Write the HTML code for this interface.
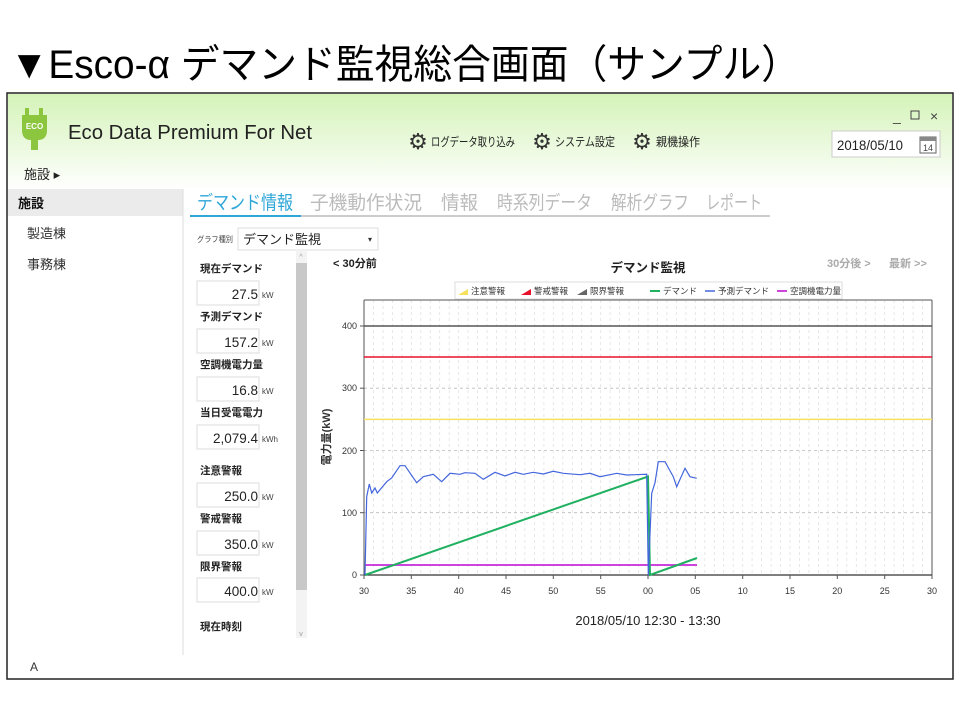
<!DOCTYPE html>
<html><head><meta charset="utf-8"><style>
html,body{margin:0;padding:0;background:#fff;}
svg{display:block;font-family:"Liberation Sans","Noto Sans CJK JP",sans-serif;}
</style></head><body>
<svg width="960" height="720" viewBox="0 0 960 720" xmlns="http://www.w3.org/2000/svg">
<defs>
<linearGradient id="hg" x1="0" y1="0" x2="0" y2="1">
<stop offset="0" stop-color="#d4f3b8"/><stop offset="1" stop-color="#ffffff"/>
</linearGradient>
</defs>
<rect width="960" height="720" fill="#fff"/>
<text x="10" y="78" font-size="40" textLength="790" lengthAdjust="spacingAndGlyphs" fill="#000">▼Esco-α デマンド監視総合画面（サンプル）</text>
<rect x="7" y="93" width="946" height="586" fill="#fff" stroke="#222" stroke-width="1.5"/>
<rect x="8" y="94" width="944" height="96" fill="url(#hg)"/>
<rect x="25" y="108" width="4" height="8" fill="#8cc63f"/><rect x="39" y="108" width="4" height="8" fill="#8cc63f"/>
<path d="M22 115 H47 V130 Q47 140 38 140 V150 H31 V140 Q22 140 22 130 Z" fill="#8cc63f"/>
<text x="34.5" y="129" font-size="8" fill="#fff" text-anchor="middle" font-weight="bold">ECO</text>
<text x="68" y="139" font-size="20" fill="#222" textLength="244" lengthAdjust="spacingAndGlyphs">Eco Data Premium For Net</text>
<text x="418" y="149" font-size="22" fill="#333" text-anchor="middle">⚙</text>
<text x="431" y="146" font-size="12" fill="#222" textLength="84" lengthAdjust="spacingAndGlyphs">ログデータ取り込み</text>
<text x="542" y="149" font-size="22" fill="#333" text-anchor="middle">⚙</text>
<text x="555" y="146" font-size="12" fill="#222" textLength="60" lengthAdjust="spacingAndGlyphs">システム設定</text>
<text x="642" y="149" font-size="22" fill="#333" text-anchor="middle">⚙</text>
<text x="656" y="146" font-size="12" fill="#222" textLength="44" lengthAdjust="spacingAndGlyphs">親機操作</text>
<text x="893" y="121" font-size="14" fill="#444">_</text>
<rect x="911" y="111" width="8" height="8" fill="none" stroke="#444"/>
<text x="930" y="121" font-size="14" fill="#444">×</text>
<rect x="832" y="131" width="108" height="26" fill="#fff" stroke="#ccc"/>
<text x="837" y="150" font-size="13.5" fill="#222" textLength="66" lengthAdjust="spacingAndGlyphs">2018/05/10</text>
<rect x="920" y="137" width="16" height="16" fill="#fff" stroke="#666"/>
<rect x="920" y="137" width="16" height="4" fill="#888"/>
<text x="928" y="151" font-size="9" fill="#444" text-anchor="middle">14</text>
<text x="24" y="179" font-size="13" fill="#222">施設 ▸</text>
<rect x="8" y="189" width="175" height="27" fill="#ebebeb"/>
<text x="18" y="208" font-size="13" fill="#111" font-weight="bold">施設</text>
<text x="27" y="238" font-size="13" fill="#333">製造棟</text>
<text x="27" y="269" font-size="13" fill="#333">事務棟</text>
<line x1="183" y1="189" x2="183" y2="655" stroke="#ddd"/>
<text x="30" y="671" font-size="12" fill="#333">A</text>
<g font-size="19" fill="#bbb" lengthAdjust="spacingAndGlyphs">
<text x="197" y="209" fill="#2ea6d8" textLength="96" lengthAdjust="spacingAndGlyphs">デマンド情報</text>
<text x="310" y="209" textLength="112" lengthAdjust="spacingAndGlyphs">子機動作状況</text>
<text x="441" y="209" textLength="37" lengthAdjust="spacingAndGlyphs">情報</text>
<text x="497" y="209" textLength="95" lengthAdjust="spacingAndGlyphs">時系列データ</text>
<text x="611" y="209" textLength="78" lengthAdjust="spacingAndGlyphs">解析グラフ</text>
<text x="706" y="209" textLength="56" lengthAdjust="spacingAndGlyphs">レポート</text>
</g>
<line x1="190" y1="216" x2="770" y2="216" stroke="#bbb" stroke-width="1.5"/>
<line x1="190" y1="216" x2="301" y2="216" stroke="#2ea6d8" stroke-width="2"/>
<text x="197" y="242" font-size="8" fill="#444" textLength="36" lengthAdjust="spacingAndGlyphs">グラフ種別</text>
<rect x="238" y="228" width="140" height="22" fill="#fff" stroke="#ddd"/>
<text x="243" y="244" font-size="13" fill="#222">デマンド監視</text>
<text x="368" y="242" font-size="8" fill="#333">▾</text>
<g font-size="10.5" font-weight="bold" fill="#222">
<text x="200" y="272">現在デマンド</text><text x="200" y="320">予測デマンド</text>
<text x="200" y="368">空調機電力量</text><text x="200" y="416">当日受電電力</text>
<text x="200" y="474">注意警報</text><text x="200" y="522">警戒警報</text>
<text x="200" y="570">限界警報</text><text x="200" y="630">現在時刻</text>
</g>
<g fill="#fff" stroke="#ddd">
<rect x="197" y="281" width="62" height="24"/><rect x="197" y="329" width="62" height="24"/>
<rect x="197" y="377" width="62" height="24"/><rect x="197" y="425" width="62" height="24"/>
<rect x="197" y="483" width="62" height="24"/><rect x="197" y="531" width="62" height="24"/>
<rect x="197" y="578" width="62" height="24"/>
</g>
<g font-size="13.5" fill="#222" text-anchor="end">
<text x="258" y="299">27.5</text><text x="258" y="347">157.2</text><text x="258" y="395">16.8</text>
<text x="258" y="443">2,079.4</text><text x="258" y="501">250.0</text><text x="258" y="549">350.0</text>
<text x="258" y="596">400.0</text>
</g>
<g font-size="8" fill="#444">
<text x="262" y="298">kW</text><text x="262" y="346">kW</text><text x="262" y="394">kW</text>
<text x="262" y="442">kWh</text><text x="262" y="500">kW</text><text x="262" y="548">kW</text><text x="262" y="595">kW</text>
</g>
<rect x="296" y="250" width="11" height="388" fill="#f3f3f3"/>
<rect x="296" y="263" width="11" height="327" fill="#c8c8c8"/>
<text x="301" y="259" font-size="7" fill="#999" text-anchor="middle">^</text>
<text x="301" y="636" font-size="7" fill="#999" text-anchor="middle">v</text>
<text x="333" y="267" font-size="11" font-weight="bold" fill="#222">&lt; 30分前</text>
<text x="648" y="272" font-size="12.5" font-weight="bold" fill="#222" text-anchor="middle">デマンド監視</text>
<text x="827" y="267" font-size="11" font-weight="bold" fill="#aaa">30分後 &gt;</text>
<text x="889" y="267" font-size="11" font-weight="bold" fill="#aaa">最新 &gt;&gt;</text>
<rect x="455" y="282" width="387" height="17" fill="#fff" stroke="#ddd"/>
<g font-size="8.5" fill="#333">
<path d="M458 295 L468 289 V295 Z" fill="#f5e060"/><text x="471" y="294">注意警報</text>
<path d="M521 295 L531 289 V295 Z" fill="#e8102a"/><text x="534" y="294">警戒警報</text>
<path d="M577 295 L587 289 V295 Z" fill="#666"/><text x="590" y="294">限界警報</text>
<line x1="650" y1="291" x2="660" y2="291" stroke="#1fb060" stroke-width="2"/><text x="663" y="294">デマンド</text>
<line x1="705" y1="291" x2="715" y2="291" stroke="#4466dd" stroke-width="1.5"/><text x="718" y="294">予測デマンド</text>
<line x1="777" y1="291" x2="787" y2="291" stroke="#cc44dd" stroke-width="2"/><text x="790" y="294">空調機電力量</text>
</g>
<g stroke="#e2e2e2" stroke-dasharray="3,3" stroke-width="0.8">
<line x1="373.5" y1="300" x2="373.5" y2="575"/><line x1="383" y1="300" x2="383" y2="575"/><line x1="392.4" y1="300" x2="392.4" y2="575"/><line x1="401.9" y1="300" x2="401.9" y2="575"/><line x1="411.3" y1="300" x2="411.3" y2="575"/><line x1="420.8" y1="300" x2="420.8" y2="575"/><line x1="430.3" y1="300" x2="430.3" y2="575"/><line x1="439.7" y1="300" x2="439.7" y2="575"/><line x1="449.2" y1="300" x2="449.2" y2="575"/><line x1="458.7" y1="300" x2="458.7" y2="575"/><line x1="468.1" y1="300" x2="468.1" y2="575"/><line x1="477.6" y1="300" x2="477.6" y2="575"/><line x1="487.1" y1="300" x2="487.1" y2="575"/><line x1="496.5" y1="300" x2="496.5" y2="575"/><line x1="506" y1="300" x2="506" y2="575"/><line x1="515.5" y1="300" x2="515.5" y2="575"/><line x1="524.9" y1="300" x2="524.9" y2="575"/><line x1="534.4" y1="300" x2="534.4" y2="575"/><line x1="543.9" y1="300" x2="543.9" y2="575"/><line x1="553.3" y1="300" x2="553.3" y2="575"/><line x1="562.8" y1="300" x2="562.8" y2="575"/><line x1="572.3" y1="300" x2="572.3" y2="575"/><line x1="581.7" y1="300" x2="581.7" y2="575"/><line x1="591.2" y1="300" x2="591.2" y2="575"/><line x1="600.7" y1="300" x2="600.7" y2="575"/><line x1="610.1" y1="300" x2="610.1" y2="575"/><line x1="619.6" y1="300" x2="619.6" y2="575"/><line x1="629.1" y1="300" x2="629.1" y2="575"/><line x1="638.5" y1="300" x2="638.5" y2="575"/><line x1="648" y1="300" x2="648" y2="575"/><line x1="657.5" y1="300" x2="657.5" y2="575"/><line x1="666.9" y1="300" x2="666.9" y2="575"/><line x1="676.4" y1="300" x2="676.4" y2="575"/><line x1="685.9" y1="300" x2="685.9" y2="575"/><line x1="695.3" y1="300" x2="695.3" y2="575"/><line x1="704.8" y1="300" x2="704.8" y2="575"/><line x1="714.3" y1="300" x2="714.3" y2="575"/><line x1="723.7" y1="300" x2="723.7" y2="575"/><line x1="733.2" y1="300" x2="733.2" y2="575"/><line x1="742.7" y1="300" x2="742.7" y2="575"/><line x1="752.1" y1="300" x2="752.1" y2="575"/><line x1="761.6" y1="300" x2="761.6" y2="575"/><line x1="771.1" y1="300" x2="771.1" y2="575"/><line x1="780.5" y1="300" x2="780.5" y2="575"/><line x1="790" y1="300" x2="790" y2="575"/><line x1="799.5" y1="300" x2="799.5" y2="575"/><line x1="808.9" y1="300" x2="808.9" y2="575"/><line x1="818.4" y1="300" x2="818.4" y2="575"/><line x1="827.9" y1="300" x2="827.9" y2="575"/><line x1="837.3" y1="300" x2="837.3" y2="575"/><line x1="846.8" y1="300" x2="846.8" y2="575"/><line x1="856.3" y1="300" x2="856.3" y2="575"/><line x1="865.7" y1="300" x2="865.7" y2="575"/><line x1="875.2" y1="300" x2="875.2" y2="575"/><line x1="884.7" y1="300" x2="884.7" y2="575"/><line x1="894.1" y1="300" x2="894.1" y2="575"/><line x1="903.6" y1="300" x2="903.6" y2="575"/><line x1="913.1" y1="300" x2="913.1" y2="575"/><line x1="922.5" y1="300" x2="922.5" y2="575"/>
<line x1="364" y1="512.7" x2="932" y2="512.7" stroke="#bbb"/><line x1="364" y1="450.5" x2="932" y2="450.5" stroke="#bbb"/><line x1="364" y1="388.2" x2="932" y2="388.2" stroke="#bbb"/>
</g>
<line x1="364" y1="300" x2="932" y2="300" stroke="#555"/>
<line x1="932" y1="300" x2="932" y2="575" stroke="#555"/>
<line x1="364" y1="300" x2="364" y2="575" stroke="#555"/>
<line x1="364" y1="575" x2="932" y2="575" stroke="#333" stroke-width="1.2"/>
<line x1="364" y1="326" x2="932" y2="326" stroke="#555" stroke-width="1.5"/>
<line x1="364" y1="357" x2="932" y2="357" stroke="#e8102a" stroke-width="1.5"/>
<line x1="364" y1="419.4" x2="932" y2="419.4" stroke="#f5e060" stroke-width="1.5"/>
<g stroke="#555">
<line x1="360" y1="326" x2="364" y2="326"/><line x1="360" y1="388.2" x2="364" y2="388.2"/><line x1="360" y1="450.5" x2="364" y2="450.5"/><line x1="360" y1="512.7" x2="364" y2="512.7"/><line x1="360" y1="575" x2="364" y2="575"/>
<line x1="364" y1="575" x2="364" y2="579"/><line x1="411.3" y1="575" x2="411.3" y2="579"/><line x1="458.7" y1="575" x2="458.7" y2="579"/><line x1="506" y1="575" x2="506" y2="579"/><line x1="553.3" y1="575" x2="553.3" y2="579"/><line x1="600.7" y1="575" x2="600.7" y2="579"/><line x1="648" y1="575" x2="648" y2="579"/><line x1="695.3" y1="575" x2="695.3" y2="579"/><line x1="742.7" y1="575" x2="742.7" y2="579"/><line x1="790" y1="575" x2="790" y2="579"/><line x1="837.3" y1="575" x2="837.3" y2="579"/><line x1="884.7" y1="575" x2="884.7" y2="579"/><line x1="932" y1="575" x2="932" y2="579"/>
</g>
<g font-size="9" fill="#333" text-anchor="end">
<text x="357" y="329">400</text><text x="357" y="391">300</text><text x="357" y="454">200</text><text x="357" y="516">100</text><text x="357" y="578">0</text>
</g>
<g font-size="9" fill="#333" text-anchor="middle">
<text x="364" y="594">30</text><text x="411.3" y="594">35</text><text x="458.7" y="594">40</text><text x="506" y="594">45</text><text x="553.3" y="594">50</text><text x="600.7" y="594">55</text><text x="648" y="594">00</text><text x="695.3" y="594">05</text><text x="742.7" y="594">10</text><text x="790" y="594">15</text><text x="837.3" y="594">20</text><text x="884.7" y="594">25</text><text x="932" y="594">30</text>
</g>
<text transform="translate(330,437) rotate(-90)" font-size="11" fill="#333" text-anchor="middle" font-weight="bold">電力量(kW)</text>
<text x="648" y="625" font-size="13" fill="#222" text-anchor="middle">2018/05/10 12:30 - 13:30</text>
<polyline fill="none" stroke="#cc44dd" stroke-width="2" points="365,565 697,565"/>
<polyline fill="none" stroke="#1fb060" stroke-width="2" points="365,575 648,476.5 650,575 697,558"/>
<polyline fill="none" stroke="#4466dd" stroke-width="1.2" points="365,575 366.7,496.7 369.3,484 371.7,493 375,488 377.3,493 386.7,481.7 391.7,478 400,465.7 405,465.7 416.7,482.7 423.3,476.7 433.3,474.3 441.7,481.7 450,473.3 460,474.3 465,472.7 475,473.3 483.3,479.3 495,472.3 505,476 515,472.3 523.3,474.3 533.3,472.3 543.3,474 553.3,471.3 563.3,473.3 580,474.7 590,473.3 600,476.7 616.7,473.3 626.7,475 646.7,474.3 648.3,575 651.7,493.3 655,482.7 658.3,461.7 665,461.7 673.3,476.7 676.7,486.7 685,468.3 690,476.7 696.7,478.3"/>
</svg>
</body></html>
